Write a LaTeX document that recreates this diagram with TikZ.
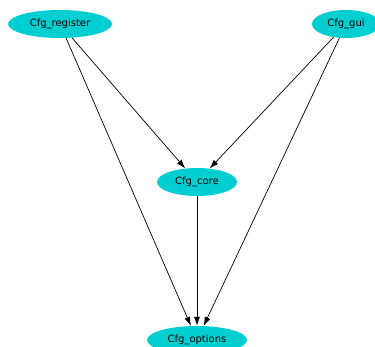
\documentclass[tikz,border=0pt]{standalone}
\usepackage{fontspec}
\setmainfont{DejaVu Sans}
\usetikzlibrary{shapes.geometric,arrows.meta}
\definecolor{cfgcyan}{HTML}{00CED1}

\begin{document}
\begin{tikzpicture}[x=1pt, y=-1pt, every node/.style={font=\fontsize{10}{12}\selectfont}]
        \tikzset{cfgmod/.style={ellipse, fill=cfgcyan, inner sep=0pt, minimum height=28pt},
                 dep/.style={line width=0.7pt, -{Latex[length=9pt, width=6pt]}}}
        \useasboundingbox (0, 0) rectangle (375, 347);
        \clip (0, 0) rectangle (375, 347);

        % modules
        \node[cfgmod, minimum width=104pt] (reg) at (60, 24) {Cfg\_register};
        \node[cfgmod, minimum width=68pt] (gui) at (346, 24) {Cfg\_gui};
        \node[cfgmod, minimum width=80pt] (core) at (197, 182) {Cfg\_core};
        \node[cfgmod, minimum width=100pt] (opt) at (197, 340) {Cfg\_options};

        % dependencies
        \draw[dep] (reg) -- (core);
        \draw[dep] (reg) -- (opt);
        \draw[dep] (gui) -- (core);
        \draw[dep] (gui) -- (opt);
        \draw[dep] (core) -- (opt);
    \end{tikzpicture}
\end{document}
